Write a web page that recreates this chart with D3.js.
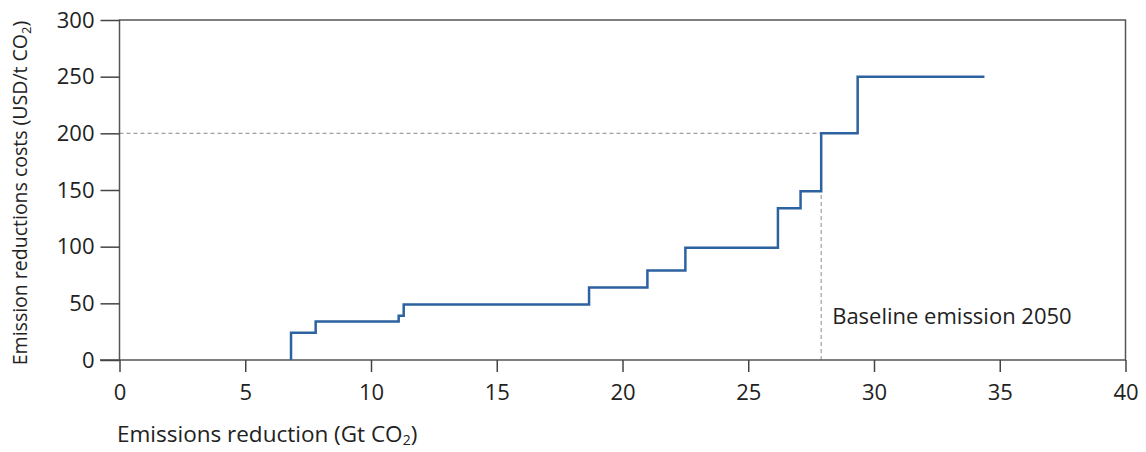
<!DOCTYPE html>
<html>
<head>
<meta charset="utf-8">
<script src="https://cdn.jsdelivr.net/npm/d3@7"></script>
<style>
  body { margin: 0; background: #fff; }
  text { font-family: "Open Sans", sans-serif; fill: #222; }
</style>
</head>
<body>
<div id="chart"></div>
<script>
// step start positions (Gt CO2) and cost level of each step (USD/t CO2)
var stepX = [6.82, 7.8, 11.1, 11.3, 18.67, 20.99, 22.5, 26.18, 27.08, 27.9, 29.35];
var stepCost = [24, 34, 39, 49, 64, 79, 99, 134, 149, 200, 250];
var stepEnd = 34.39;

var xTicks = [0, 5, 10, 15, 20, 25, 30, 35, 40];
var yTicks = [0, 50, 100, 150, 200, 250, 300];

var baselineX = 27.9, baselineCost = 200;
var baselineLabel = "Baseline emission 2050";

(function(){
  var width = 1146, height = 452;
  var margin = {left: 119.5, right: 20.5, top: 20, bottom: 92};

  var svg = d3.select("#chart")
    .append("svg")
    .attr("width", width)
    .attr("height", height);

  var x = d3.scaleLinear().domain([0, 40]).range([margin.left, width - margin.right]);
  var y = d3.scaleLinear().domain([0, 300]).range([height - margin.bottom, margin.top]);

  // dashed reference lines
  svg.append("line")
    .attr("x1", x(0)).attr("x2", x(baselineX))
    .attr("y1", y(baselineCost)).attr("y2", y(baselineCost))
    .style("stroke", "#a0a0a0").style("stroke-width", 1.2)
    .style("stroke-dasharray", "4,3");
  svg.append("line")
    .attr("x1", x(baselineX)).attr("x2", x(baselineX))
    .attr("y1", y(0)).attr("y2", y(baselineCost))
    .style("stroke", "#a0a0a0").style("stroke-width", 1.2)
    .style("stroke-dasharray", "4,3");

  // frame
  svg.append("rect")
    .attr("x", x(0)).attr("y", y(300))
    .attr("width", x(40) - x(0)).attr("height", y(0) - y(300))
    .attr("fill", "none")
    .style("stroke", "#555").style("stroke-width", 1.5);

  // axes
  var xAxis = svg.append("g")
    .attr("transform", "translate(0," + y(0) + ")")
    .call(d3.axisBottom(x).tickValues(xTicks).tickSize(12).tickPadding(12).tickFormat(d3.format("d")));
  var yAxis = svg.append("g")
    .attr("transform", "translate(" + x(0) + ",0)")
    .call(d3.axisLeft(y).tickValues(yTicks).tickSize(19).tickPadding(6).tickFormat(d3.format("d")));

  [xAxis, yAxis].forEach(function(a){
    a.select(".domain").remove();
    a.selectAll(".tick line").style("stroke", "#444").style("stroke-width", 1.5);
    a.selectAll(".tick text")
      .style("font-family", "'Open Sans', sans-serif")
      .style("font-size", "22px")
      .style("fill", "#222");
  });
  svg.append("line")
    .attr("x1", 100).attr("x2", x(0))
    .attr("y1", y(0)).attr("y2", y(0))
    .style("stroke", "#444").style("stroke-width", 1.5);

  // step curve
  var pts = [[stepX[0], 0]];
  stepX.forEach(function(d, i){ pts.push([d, stepCost[i]]); });
  pts.push([stepEnd, stepCost[stepCost.length - 1]]);

  var line = d3.line()
    .x(function(d){ return x(d[0]); })
    .y(function(d){ return y(d[1]); })
    .curve(d3.curveStepAfter);

  svg.append("path")
    .datum(pts)
    .attr("d", line)
    .attr("fill", "none")
    .style("stroke", "#2c62a0")
    .style("stroke-width", 2.5);

  // baseline label
  svg.append("text")
    .attr("x", x(baselineX) + 11)
    .attr("y", y(0) - 36)
    .style("font-size", "22px")
    .text(baselineLabel);

  // x title
  var xt = svg.append("text")
    .attr("x", 117)
    .attr("y", 442)
    .style("font-size", "22.5px");
  xt.append("tspan").text("Emissions reduction (Gt CO");
  xt.append("tspan").attr("dy", 3).style("font-size", "14px").text("2");
  xt.append("tspan").attr("dy", -3).text(")");

  // y title
  var yt = svg.append("text")
    .attr("transform", "translate(27," + ((y(0) + y(300)) / 2 + 3) + ") rotate(-90)")
    .attr("text-anchor", "middle")
    .style("font-size", "19.5px");
  yt.append("tspan").text("Emission reductions costs (USD/t CO");
  yt.append("tspan").attr("dy", 4).style("font-size", "13px").text("2");
  yt.append("tspan").attr("dy", -4).text(")");
})();
</script>
</body>
</html>
